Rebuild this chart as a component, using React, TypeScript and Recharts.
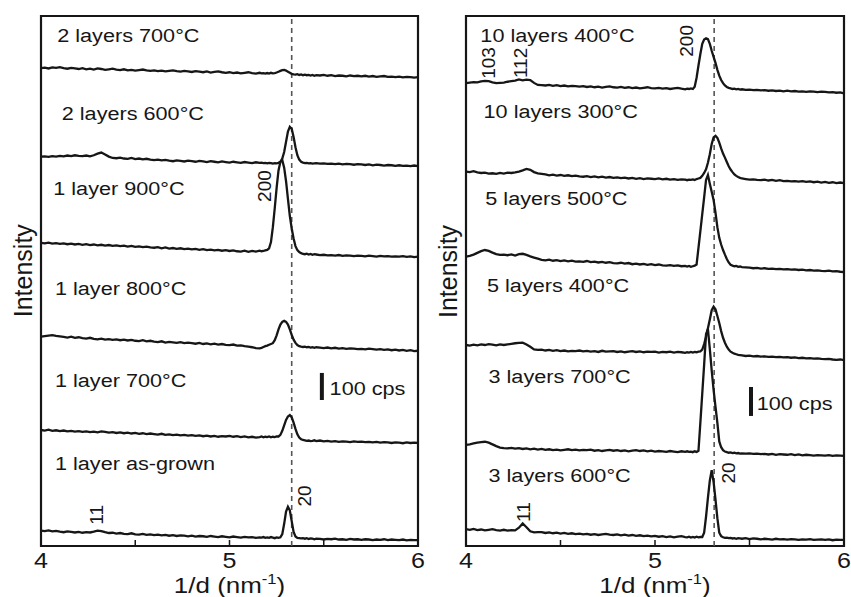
import { LineChart, Line, XAxis, YAxis, ReferenceArea, ReferenceLine, ReferenceDot } from 'recharts';

// 1/d grid shared by every scan (denser around the 200 / 20 reflection)
const X_GRID = [
  4.0, 4.02, 4.04, 4.06, 4.08, 4.1, 4.12, 4.14, 4.16, 4.18,
  4.2, 4.22, 4.24, 4.26, 4.28, 4.3, 4.32, 4.34, 4.36, 4.38,
  4.4, 4.42, 4.44, 4.46, 4.48, 4.5, 4.52, 4.54, 4.56, 4.58,
  4.6, 4.62, 4.64, 4.66, 4.68, 4.7, 4.72, 4.74, 4.76, 4.78,
  4.8, 4.82, 4.84, 4.86, 4.88, 4.9, 4.92, 4.94, 4.96, 4.98,
  5.0, 5.02, 5.04, 5.06, 5.08, 5.1, 5.12, 5.14, 5.16,
  5.17, 5.18, 5.19,
  5.2, 5.21, 5.22, 5.23, 5.24, 5.25, 5.26, 5.27, 5.28, 5.29,
  5.3, 5.31, 5.32, 5.33, 5.34, 5.35, 5.36, 5.37, 5.38, 5.39,
  5.4, 5.41, 5.42, 5.43, 5.44, 5.45,
  5.46, 5.48,
  5.5, 5.52, 5.54, 5.56, 5.58, 5.6, 5.62, 5.64, 5.66, 5.68,
  5.7, 5.72, 5.74, 5.76, 5.78, 5.8, 5.82, 5.84, 5.86, 5.88,
  5.9, 5.92, 5.94, 5.96, 5.98, 6.0,
];

const X_TICKS = [4, 4.5, 5, 5.5, 6];

// ---- left panel scans (cps, before stacking) ----
const TWO_700 = [
  53, 55, 52, 56, 54, 57, 53, 51, 54, 52,
  50, 53, 49, 51, 48, 52, 50, 47, 49, 51,
  48, 46, 49, 45, 47, 44, 46, 48, 45, 43,
  45, 42, 44, 41, 43, 45, 42, 40, 43, 41,
  39, 42, 40, 38, 41, 37, 39, 41, 38, 36,
  38, 35, 37, 34, 36, 38, 35, 33, 36,
  34, 35, 33,
  35, 33, 36, 34, 35, 37, 40, 43, 46, 47,
  44, 40, 36, 32, 30, 29, 31, 28, 30, 27,
  29, 27, 28, 26, 28, 25,
  27, 26,
  28, 25, 27, 24, 26, 25, 23, 26, 24, 25,
  23, 25, 22, 24, 21, 23, 24, 21, 22, 20,
  22, 19, 21, 20, 18, 20,
];
const TWO_600 = [
  55, 56, 54, 57, 55, 58, 56, 59, 57, 60,
  58, 57, 59, 56, 60, 66, 70, 63, 55, 50,
  49, 51, 48, 47, 50, 46, 48, 45, 47, 44,
  42, 44, 41, 43, 40, 38, 41, 39, 37, 40,
  38, 36, 39, 37, 35, 38, 36, 34, 37, 35,
  33, 36, 34, 32, 35, 33, 31, 34, 32,
  33, 31, 32,
  30, 32, 31, 29, 31, 30, 32, 36, 48, 72,
  110, 148, 165, 158, 128, 90, 60, 44, 36, 33,
  31, 32, 30, 31, 29, 30,
  31, 29,
  30, 28, 29, 27, 29, 26, 28, 27, 25, 27,
  26, 24, 26, 23, 25, 24, 22, 24, 23, 21,
  23, 21, 22, 20, 22, 20,
];
const ONE_900 = [
  72, 70, 73, 69, 71, 68, 70, 67, 69, 66,
  68, 65, 67, 64, 66, 63, 65, 62, 64, 61,
  63, 60, 62, 58, 61, 57, 59, 56, 58, 55,
  54, 56, 52, 55, 51, 53, 50, 52, 49, 51,
  48, 50, 46, 49, 45, 47, 44, 46, 43, 45,
  42, 44, 41, 40, 43, 39, 42, 40, 43,
  41, 42, 44,
  46, 52, 75, 130, 200, 275, 340, 372, 378, 350,
  300, 235, 172, 125, 88, 60, 45, 38, 34, 31,
  30, 32, 29, 31, 28, 30,
  29, 27,
  28, 26, 27, 25, 27, 24, 26, 25, 23, 25,
  24, 22, 25, 23, 21, 24, 22, 23, 21, 22,
  21, 23, 20, 22, 19, 21,
];
const ONE_800 = [
  73, 75, 77, 79, 76, 74, 72, 70, 73, 69,
  71, 68, 66, 69, 65, 63, 66, 62, 64, 61,
  63, 60, 62, 59, 61, 58, 57, 60, 56, 58,
  55, 53, 56, 51, 54, 52, 50, 53, 49, 51,
  49, 47, 50, 46, 48, 45, 47, 44, 46, 43,
  42, 44, 40, 41, 38, 36, 34, 31, 30,
  32, 35, 38,
  40, 43, 46, 49, 60, 78, 100, 118, 128, 132,
  128, 118, 100, 80, 62, 50, 42, 38, 36, 35,
  36, 34, 35, 33, 34, 32,
  34, 33,
  31, 33, 30, 32, 29, 31, 28, 30, 29, 27,
  28, 26, 29, 27, 25, 27, 24, 26, 23, 25,
  22, 24, 21, 23, 20, 21,
];
const ONE_700 = [
  68, 66, 69, 65, 67, 64, 66, 63, 65, 62,
  64, 61, 63, 60, 62, 59, 63, 61, 58, 60,
  57, 59, 56, 58, 55, 57, 54, 56, 53, 55,
  53, 51, 54, 50, 52, 49, 51, 48, 50, 47,
  49, 46, 48, 45, 47, 44, 46, 43, 45, 44,
  46, 43, 45, 42, 44, 41, 43, 40, 42,
  44, 41, 43,
  42, 44, 41, 43, 42, 44, 44, 50, 65, 85,
  105, 118, 123, 115, 95, 72, 52, 40, 34, 31,
  30, 28, 29, 27, 28, 30,
  27, 29,
  26, 28, 25, 27, 24, 26, 25, 23, 26, 24,
  25, 23, 24, 22, 24, 21, 23, 22, 20, 22,
  21, 19, 22, 20, 21, 20,
];
const ONE_ASGROWN = [
  55, 53, 56, 52, 54, 51, 49, 52, 50, 48,
  50, 47, 49, 48, 51, 55, 53, 49, 46, 47,
  44, 46, 43, 42, 45, 41, 40, 43, 39, 41,
  38, 40, 37, 39, 36, 38, 35, 37, 36, 34,
  36, 33, 35, 34, 32, 35, 33, 31, 34, 32,
  30, 33, 31, 29, 32, 30, 31, 28, 30,
  29, 31, 28,
  30, 28, 31, 29, 27, 30, 28, 30, 42, 80,
  125, 143, 130, 90, 50, 33, 28, 27, 26, 27,
  25, 27, 24, 26, 25, 23,
  25, 24,
  22, 24, 23, 25, 22, 23, 21, 24, 22, 23,
  21, 23, 22, 20, 22, 21, 23, 20, 22, 21,
  20, 22, 19, 21, 20, 20,
];

// ---- right panel scans ----
const TEN_400 = [
  54, 56, 58, 57, 60, 62, 61, 57, 54, 55,
  56, 59, 61, 63, 67, 64, 66, 65, 55, 48,
  47, 46, 48, 45, 47, 44, 46, 43, 45, 44,
  42, 44, 41, 43, 40, 42, 39, 41, 43, 40,
  39, 41, 38, 40, 37, 39, 36, 38, 40, 37,
  36, 38, 35, 37, 34, 36, 38, 35, 33,
  35, 34, 36,
  34, 42, 73, 115, 155, 190, 205, 209, 206, 190,
  166, 145, 124, 100, 80, 65, 54, 46, 41, 38,
  36, 34, 35, 33, 34, 32,
  33, 31,
  32, 30, 31, 29, 30, 28, 29, 27, 28, 26,
  28, 26, 27, 25, 26, 24, 26, 25, 23, 25,
  24, 22, 23, 21, 22, 19,
];
const TEN_300 = [
  60, 58, 61, 57, 55, 56, 53, 54, 52, 55,
  53, 56, 55, 57, 60, 64, 69, 66, 58, 54,
  52, 50, 47, 49, 46, 48, 45, 47, 44, 46,
  43, 42, 44, 41, 43, 40, 42, 39, 41, 38,
  40, 37, 39, 36, 38, 35, 37, 34, 36, 35,
  34, 36, 33, 35, 32, 34, 31, 33, 32,
  30, 32, 31,
  33, 31, 34, 36, 38, 45, 55, 68, 90, 120,
  155, 178, 183, 176, 160, 140, 122, 108, 93, 78,
  67, 58, 50, 45, 41, 38,
  36, 34,
  32, 33, 31, 30, 32, 29, 31, 28, 30, 27,
  28, 26, 27, 25, 27, 24, 26, 23, 25, 22,
  24, 21, 23, 20, 22, 20,
];
const FIVE_500 = [
  73, 76, 80, 86, 92, 96, 93, 87, 82, 79,
  80, 78, 81, 77, 82, 83, 79, 74, 70, 66,
  62, 60, 63, 59, 61, 58, 60, 57, 59, 56,
  57, 55, 58, 54, 56, 53, 55, 52, 54, 51,
  50, 52, 49, 51, 47, 49, 46, 48, 45, 47,
  44, 46, 43, 42, 44, 41, 43, 40, 41,
  39, 41, 38,
  40, 42, 46, 103, 161, 220, 278, 338, 355, 325,
  297, 269, 225, 175, 138, 115, 96, 80, 65, 53,
  45, 42, 40, 41, 38, 39,
  37, 36,
  35, 33, 34, 32, 33, 31, 32, 30, 31, 29,
  30, 28, 29, 27, 28, 26, 27, 25, 26, 24,
  23, 25, 22, 23, 21, 20,
];
const FIVE_400 = [
  72, 70, 73, 71, 74, 72, 75, 73, 71, 74,
  72, 74, 76, 78, 79, 80, 74, 66, 57, 55,
  56, 53, 55, 52, 54, 51, 53, 50, 52, 51,
  53, 50, 52, 49, 51, 48, 52, 49, 50, 51,
  48, 50, 47, 49, 51, 48, 50, 47, 49, 48,
  49, 46, 48, 47, 49, 46, 48, 47, 45,
  47, 46, 48,
  46, 48, 47, 49, 50, 56, 75, 100, 130, 160,
  192, 204, 195, 172, 148, 120, 97, 80, 66, 56,
  49, 45, 42, 40, 38, 37,
  36, 34,
  35, 33, 34, 32, 33, 31, 32, 30, 31, 29,
  30, 28, 29, 27, 28, 26, 27, 25, 26, 24,
  23, 24, 22, 21, 22, 20,
];
const THREE_700 = [
  58, 60, 63, 66, 68, 69, 66, 60, 54, 49,
  47, 46, 48, 45, 47, 44, 46, 43, 45, 42,
  44, 41, 43, 40, 42, 39, 41, 43, 40, 42,
  39, 41, 40, 42, 38, 40, 37, 39, 41, 38,
  40, 37, 39, 36, 38, 40, 37, 39, 36, 38,
  35, 37, 36, 34, 37, 35, 33, 36, 34,
  36, 34, 35,
  33, 36, 34, 38, 135, 235, 335, 440, 458, 390,
  315, 248, 190, 134, 70, 50, 40, 35, 33, 31,
  32, 30, 31, 29, 30, 28,
  29, 28,
  29, 27, 28, 26, 27, 25, 27, 24, 26, 25,
  24, 26, 23, 25, 22, 24, 23, 21, 23, 22,
  21, 23, 20, 22, 21, 20,
];
const THREE_600 = [
  57, 55, 58, 54, 56, 53, 55, 57, 54, 52,
  55, 52, 54, 53, 62, 77, 64, 50, 46, 47,
  47, 44, 46, 43, 45, 42, 44, 41, 43, 40,
  42, 39, 41, 38, 40, 37, 39, 41, 38, 37,
  39, 36, 38, 35, 37, 34, 36, 33, 35, 32,
  34, 31, 33, 30, 32, 29, 31, 33, 30,
  29, 31, 28,
  30, 28, 31, 29, 30, 30, 45, 100, 165, 225,
  261, 220, 160, 95, 45, 33, 29, 27, 28, 26,
  27, 25, 26, 24, 26, 25,
  24, 26,
  23, 25, 24, 22, 24, 23, 21, 24, 22, 23,
  21, 23, 22, 20, 22, 21, 23, 20, 21, 22,
  20, 22, 19, 21, 20, 20,
];

// vertical stacking offsets (cps), top scan first
const LEFT_OFFSETS = [1714, 1385, 1049, 701, 361, 2];
const RIGHT_OFFSETS = [1544, 1233, 926, 622, 291, 1];

const LEFT_NAMES = ['2 layers 700°C', '2 layers 600°C', '1 layer 900°C', '1 layer 800°C', '1 layer 700°C', '1 layer as-grown'];
const RIGHT_NAMES = ['10 layers 400°C', '10 layers 300°C', '5 layers 500°C', '5 layers 400°C', '3 layers 700°C', '3 layers 600°C'];

const INK = '#161616';
const FONT = '"Liberation Sans", Arial, Helvetica, sans-serif';
const STRETCH = 1.14;

function buildRows(traces: number[][], offsets: number[]) {
  return X_GRID.map((x, i) => {
    const row: Record<string, number> = { x };
    traces.forEach((t, k) => {
      row[`t${k}`] = offsets[k] + t[i];
    });
    return row;
  });
}

const LEFT_ROWS = buildRows([TWO_700, TWO_600, ONE_900, ONE_800, ONE_700, ONE_ASGROWN], LEFT_OFFSETS);
const RIGHT_ROWS = buildRows([TEN_400, TEN_300, FIVE_500, FIVE_400, THREE_700, THREE_600], RIGHT_OFFSETS);

// label placement, in data coordinates
const LEFT_LAYOUT = {
  yMax: 1960,
  dashX: 5.33,
  names: [
    { x: 4.086, y: 1865 },
    { x: 4.11, y: 1575 },
    { x: 4.065, y: 1298 },
    { x: 4.074, y: 928 },
    { x: 4.074, y: 589 },
    { x: 4.074, y: 281 },
  ],
  peaks: [
    { text: '200', x: 5.187, y: 1331 },
    { text: '11', x: 4.295, y: 115 },
    { text: '20', x: 5.399, y: 185 },
  ],
  bar: { x: 5.49, y: 540, textX: 5.531, textY: 558 },
  intensity: { x: 3.951, y: 1018 },
};

const RIGHT_LAYOUT = {
  yMax: 1830,
  dashX: 5.313,
  names: [
    { x: 4.076, y: 1741 },
    { x: 4.093, y: 1477 },
    { x: 4.102, y: 1177 },
    { x: 4.111, y: 878 },
    { x: 4.119, y: 562 },
    { x: 4.119, y: 222 },
  ],
  peaks: [
    { text: '103', x: 4.119, y: 1668 },
    { text: '112', x: 4.287, y: 1668 },
    { text: '200', x: 5.168, y: 1744 },
    { text: '11', x: 4.304, y: 117 },
    { text: '20', x: 5.388, y: 252 },
  ],
  bar: { x: 5.508, y: 449, textX: 5.538, textY: 470 },
  intensity: { x: 3.954, y: 948 },
};

function anchor(p: any) {
  const vb = p.viewBox ?? p;
  return { x: vb.x + (vb.width || 0) / 2, y: vb.y + (vb.height || 0) / 2 };
}

function StretchText({ x, y, text, size, anchorMode = 'start' }: any) {
  return (
    <text
      transform={`translate(${x},${y}) scale(${STRETCH},1)`}
      fontSize={size}
      fontFamily={FONT}
      fill={INK}
      textAnchor={anchorMode}
    >
      {text}
    </text>
  );
}

function AxisTick(props: any) {
  const { x, y, payload } = props;
  if (!Number.isInteger(payload.value)) return null;
  return (
    <text
      transform={`translate(${x},${y}) scale(${STRETCH},1)`}
      fontSize={22}
      fontFamily={FONT}
      fill={INK}
      textAnchor="middle"
      dy="0.71em"
    >
      {payload.value}
    </text>
  );
}

function XTitle(props: any) {
  const vb = props.viewBox;
  const cx = vb.x + vb.width / 2;
  const by = vb.y + 47;
  return (
    <text
      transform={`translate(${cx},${by}) scale(1.18,1)`}
      fontSize={22}
      fontFamily={FONT}
      fill={INK}
      textAnchor="middle"
    >
      1/d (nm
      <tspan fontSize={14} dy={-9}>-1</tspan>
      <tspan dy={9}>)</tspan>
    </text>
  );
}

function Panel({ rows, names, layout, width, marginLeft }: any) {
  return (
    <LineChart
      width={width}
      height={597}
      data={rows}
      margin={{ top: 16, right: 7, bottom: 0, left: marginLeft }}
    >
      <XAxis
        type="number"
        dataKey="x"
        domain={[4, 6]}
        ticks={X_TICKS}
        interval={0}
        allowDataOverflow
        axisLine={false}
        tickSize={-6}
        tickMargin={12}
        tickLine={{ stroke: INK, strokeWidth: 1.5 }}
        tick={(p: any) => <AxisTick {...p} />}
        height={51}
        label={(p: any) => <XTitle {...p} />}
      />
      <YAxis type="number" domain={[0, layout.yMax]} hide allowDataOverflow />
      <ReferenceLine x={layout.dashX} stroke="#555" strokeWidth={1.6} strokeDasharray="5 4" />
      <ReferenceArea x1={4} x2={6} y1={0} y2={layout.yMax} fill="none" stroke={INK} strokeWidth={2.2} />
      {names.map((_: string, k: number) => (
        <Line
          key={k}
          dataKey={`t${k}`}
          type="linear"
          stroke={INK}
          strokeWidth={2.3}
          dot={false}
          activeDot={false}
          isAnimationActive={false}
        />
      ))}
      <ReferenceLine
        segment={[
          { x: layout.bar.x, y: layout.bar.y },
          { x: layout.bar.x, y: layout.bar.y + 100 },
        ]}
        stroke={INK}
        strokeWidth={4}
        ifOverflow="visible"
      />
      <ReferenceDot
        x={layout.bar.textX}
        y={layout.bar.textY}
        r={0}
        fill="none"
        stroke="none"
        ifOverflow="visible"
        label={(p: any) => {
          const a = anchor(p);
          return <StretchText x={a.x} y={a.y} text="100 cps" size={19} />;
        }}
      />
      {names.map((name: string, k: number) => (
        <ReferenceDot
          key={`n${k}`}
          x={layout.names[k].x}
          y={layout.names[k].y}
          r={0}
          fill="none"
          stroke="none"
          ifOverflow="visible"
          label={(p: any) => {
            const a = anchor(p);
            return <StretchText x={a.x} y={a.y} text={name} size={19} />;
          }}
        />
      ))}
      {layout.peaks.map((pk: any, k: number) => (
        <ReferenceDot
          key={`p${k}`}
          x={pk.x}
          y={pk.y}
          r={0}
          fill="none"
          stroke="none"
          ifOverflow="visible"
          label={(p: any) => {
            const a = anchor(p);
            return (
              <text
                transform={`translate(${a.x},${a.y}) rotate(-90)`}
                fontSize={19}
                fontFamily={FONT}
                fill={INK}
                textAnchor="middle"
                dominantBaseline="central"
              >
                {pk.text}
              </text>
            );
          }}
        />
      ))}
      <ReferenceDot
        x={layout.intensity.x}
        y={layout.intensity.y}
        r={0}
        fill="none"
        stroke="none"
        ifOverflow="visible"
        label={(p: any) => {
          const a = anchor(p);
          return (
            <text
              transform={`translate(${a.x},${a.y}) rotate(-90)`}
              fontSize={25}
              fontFamily={FONT}
              fill={INK}
              textAnchor="middle"
            >
              Intensity
            </text>
          );
        }}
      />
    </LineChart>
  );
}

export default function App() {
  return (
    <div style={{ position: 'absolute', left: 0, top: 0, width: 851, height: 597, background: '#fff' }}>
      <div style={{ position: 'absolute', left: 0, top: 0 }}>
        <Panel rows={LEFT_ROWS} names={LEFT_NAMES} layout={LEFT_LAYOUT} width={425} marginLeft={41} />
      </div>
      <div style={{ position: 'absolute', left: 425, top: 0 }}>
        <Panel rows={RIGHT_ROWS} names={RIGHT_NAMES} layout={RIGHT_LAYOUT} width={426} marginLeft={41} />
      </div>
    </div>
  );
}
